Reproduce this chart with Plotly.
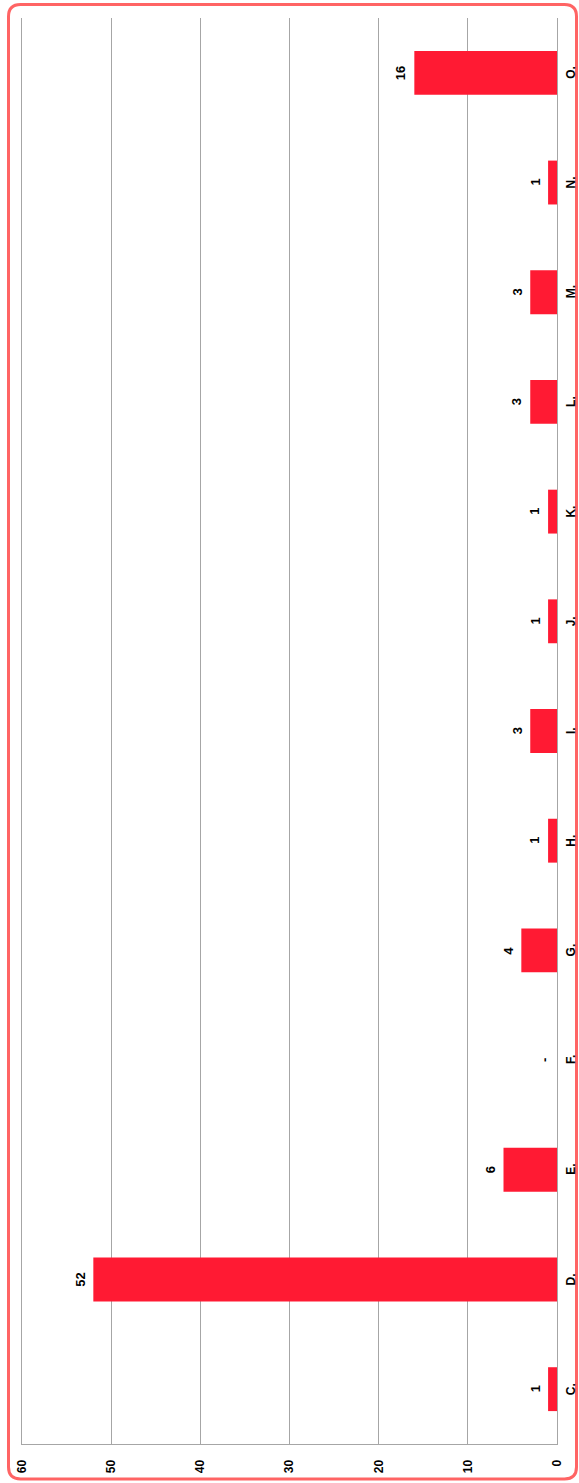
import plotly.graph_objects as go

categories = ["C.", "D.", "E.", "F.", "G.", "H.", "I.", "J.", "K.", "L.", "M.", "N.", "O."]
values = [1, 52, 6, 0, 4, 1, 3, 1, 1, 3, 3, 1, 16]
value_labels = ["1", "52", "6", "-", "4", "1", "3", "1", "1", "3", "3", "1", "16"]
x_ticks = [0, 10, 20, 30, 40, 50, 60]

W, H = 579, 1483
L, R, T, B = 22, 22, 18, 39
pw, ph = W - L - R, H - T - B

BAR = "#FF1A33"
GRID = "#A6A6A6"
FONT = "Liberation Sans, Arial, sans-serif"

fig = go.Figure()
fig.add_trace(go.Bar(
    x=values, y=categories, orientation="h",
    marker=dict(color=BAR, line=dict(width=0)),
    hoverinfo="skip",
))

annotations = []
for c, v, t in zip(categories, values, value_labels):
    annotations.append(dict(
        x=v, y=c, xref="x", yref="y", text=f"<b>{t}</b>", showarrow=False,
        textangle=-90, xanchor="center", yanchor="middle", xshift=-13,
        font=dict(family=FONT, size=13, color="black"),
    ))
    # category label to the right of the value axis origin
    annotations.append(dict(
        x=0, y=c, xref="x", yref="y", text=f"<b>{c}</b>", showarrow=False,
        textangle=-90, xanchor="center", yanchor="middle", xshift=14,
        font=dict(family=FONT, size=12, color="black"),
    ))

def px2paper(px, py):
    return (px - L) / pw, (H - B - py) / ph

def P(px, py):
    a, b = px2paper(px, py)
    return f"{a:.5f},{b:.5f}"

x0, y0, x1, y1, r = 8.5, 4.5, 576.5, 1479, 12
path = (f"M {P(x0 + r, y0)} L {P(x1 - r, y0)} Q {P(x1, y0)} {P(x1, y0 + r)} "
        f"L {P(x1, y1 - r)} Q {P(x1, y1)} {P(x1 - r, y1)} "
        f"L {P(x0 + r, y1)} Q {P(x0, y1)} {P(x0, y1 - r)} "
        f"L {P(x0, y0 + r)} Q {P(x0, y0)} {P(x0 + r, y0)} Z")

fig.update_layout(
    width=W, height=H,
    margin=dict(l=L, r=R, t=T, b=B, pad=0, autoexpand=False),
    paper_bgcolor="white", plot_bgcolor="white",
    showlegend=False,
    bargap=0.6,
    font=dict(family=FONT, size=12, color="black"),
    xaxis=dict(
        range=[60, 0], tickvals=x_ticks, ticktext=[f"<b>{v}</b>" for v in x_ticks],
        tickangle=-90, showgrid=True, gridcolor=GRID, gridwidth=1,
        zeroline=False, showline=True, linecolor=GRID, linewidth=1,
        ticks="", ticklabelstandoff=10, tickfont=dict(family=FONT, size=12),
        fixedrange=True, automargin=False,
    ),
    yaxis=dict(
        categoryorder="array", categoryarray=categories,
        side="right", showticklabels=False,
        showgrid=False, zeroline=False, showline=True, mirror=True,
        linecolor=GRID, linewidth=1, ticks="",
        range=[-0.5, len(categories) - 0.5], automargin=False, fixedrange=True,
    ),
    annotations=annotations,
    shapes=[dict(type="path", path=path, xref="paper", yref="paper",
                 line=dict(color="#FF6464", width=3), layer="above")],
)

fig.write_html(
    "out.html",
    config={"displayModeBar": False, "staticPlot": True},
    post_script="document.body.style.margin='0';document.body.style.overflow='hidden';",
)
